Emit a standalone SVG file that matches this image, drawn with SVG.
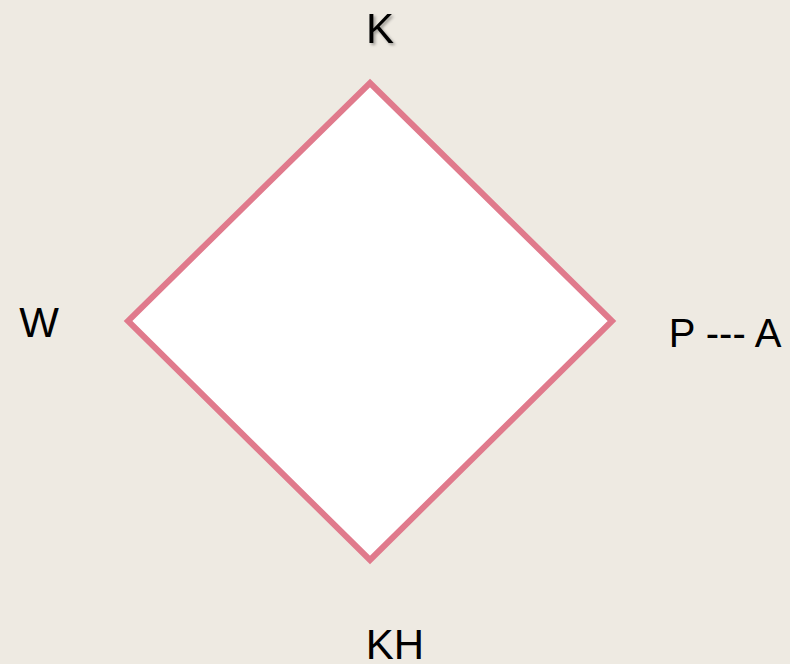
<svg xmlns="http://www.w3.org/2000/svg" width="790" height="664" viewBox="0 0 790 664">
<defs>
<style>
.lbl{font-family:"Liberation Sans",Arial,sans-serif;font-size:42px;fill:#000;text-anchor:middle}
</style>
<filter id="sh" x="-20%" y="-20%" width="140%" height="140%"><feDropShadow dx="2" dy="2" stdDeviation="1.5" flood-color="#000" flood-opacity="0.35"/></filter>
</defs>
<rect width="790" height="664" fill="#EEEAE2"/>
<g id="connectors">
<polygon points="370,83 612,321 370,560 128,321" fill="#FFFFFF" stroke="#E07A8C" stroke-width="6" stroke-linejoin="miter"/>
</g>
<g id="node-K"><text class="lbl" x="380" y="43" filter="url(#sh)">K</text></g>
<g id="node-W"><text class="lbl" x="39" y="337">W</text></g>
<g id="node-PA"><text class="lbl" x="725" y="347" style="font-size:40px">P --- A</text></g>
<g id="node-KH"><text class="lbl" x="395" y="659">KH</text></g>
</svg>
